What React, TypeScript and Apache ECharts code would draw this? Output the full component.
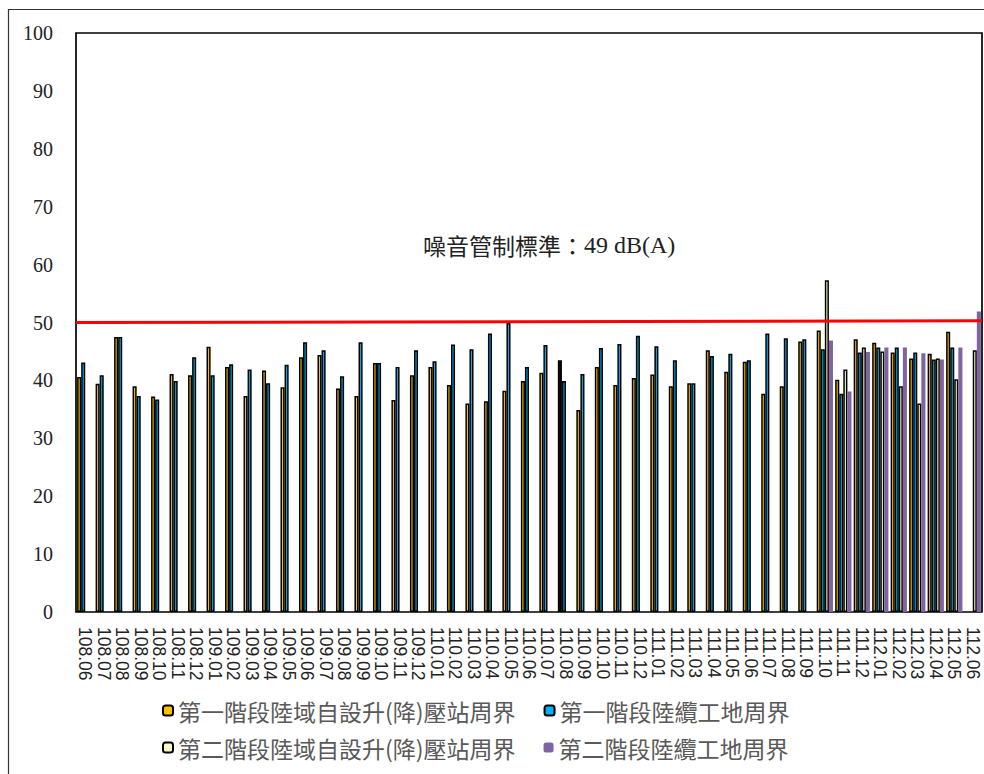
import React, { useEffect, useRef } from "react";
import * as echarts from "echarts";

const categories = [
  "108.06", "108.07", "108.08", "108.09", "108.10", "108.11", "108.12",
  "109.01", "109.02", "109.03", "109.04", "109.05", "109.06", "109.07", "109.08", "109.09", "109.10", "109.11", "109.12",
  "110.01", "110.02", "110.03", "110.04", "110.05", "110.06", "110.07", "110.08", "110.09", "110.10", "110.11", "110.12",
  "111.01", "111.02", "111.03", "111.04", "111.05", "111.06", "111.07", "111.08", "111.09", "111.10", "111.11", "111.12",
  "112.01", "112.02", "112.03", "112.04", "112.05", "112.06",
];

const seriesNames = [
  "第一階段陸域自設升(降)壓站周界",
  "第一階段陸纜工地周界",
  "第二階段陸域自設升(降)壓站周界",
  "第二階段陸纜工地周界",
];

const phase1Station: (number | null)[] = [
  40.6, 39.4, 47.5, 39.0, 37.2, 41.1, 40.9,
  45.8, 42.3, 37.3, 41.7, 38.8, 44.0, 44.4, 38.6, 37.3, 43.0, 36.6, 40.9,
  42.3, 39.2, 36.0, 36.4, 38.2, 39.9, 41.3, 43.5, 34.9, 42.3, 39.2, 40.4,
  41.0, 39.0, 39.5, 45.2, 41.5, 43.2, 37.7, 39.0, 46.7, 48.6, 40.1, 47.1,
  46.5, 44.8, 43.8, 44.6, 48.4, null,
];

const phase1Cable: (number | null)[] = [
  43.1, 40.9, 47.5, 37.3, 36.7, 39.9, 44.0,
  40.9, 42.8, 41.9, 39.5, 42.7, 46.6, 45.2, 40.7, 46.6, 43.0, 42.3, 45.2,
  43.3, 46.2, 45.4, 48.1, 49.9, 42.3, 46.1, 39.9, 41.1, 45.6, 46.3, 47.7,
  45.9, 43.5, 39.5, 44.2, 44.6, 43.5, 48.1, 47.3, 47.1, 45.4, 37.7, 44.8,
  45.7, 45.7, 44.8, 43.6, 45.7, null,
];

const phase2Station: (number | null)[] = [
  null, null, null, null, null, null, null,
  null, null, null, null, null, null, null, null, null, null, null, null,
  null, null, null, null, null, null, null, null, null, null, null, null,
  null, null, null, null, null, null, null, null, null, 57.3, 41.9, 45.7,
  45.0, 39.0, 36.0, 43.8, 40.2, 45.2,
];

const phase2Cable: (number | null)[] = [
  null, null, null, null, null, null, null,
  null, null, null, null, null, null, null, null, null, null, null, null,
  null, null, null, null, null, null, null, null, null, null, null, null,
  null, null, null, null, null, null, null, null, null, 46.9, 38.1, 44.9,
  45.7, 45.7, 44.7, 43.6, 45.7, 51.9,
];

// noise limit line (start / end value as drawn)
const limitLine = [50.0, 50.3];
const darkPointIndex = 26; // 110.08 first bar drawn dark in reference

const colors = ["#FFC000", "#00B0F0", "#FFFFCC", "#8064A2"];

export default function App() {
  const ref = useRef<HTMLDivElement>(null);
  useEffect(() => {
    if (!ref.current) return;
    const chart = echarts.init(ref.current, null, { renderer: "svg" });
    const mkBar = (i: number, data: (number | null)[], border: boolean) => ({
      name: seriesNames[i],
      type: "bar",
      xAxisIndex: 0,
      yAxisIndex: 0,
      data: data.map((v, k) =>
        i === 0 && k === darkPointIndex ? { value: v, itemStyle: { color: "#111" } } : v
      ),
      barGap: "0%",
      barCategoryGap: "12%",
      itemStyle: {
        color: colors[i],
        borderColor: border ? "#000" : colors[i],
        borderWidth: border ? 1.5 : 0,
      },
    });
    const legendText = {
      fontFamily: "'Noto Sans CJK TC', sans-serif",
      fontSize: 23,
      color: "#595959",
    };
    chart.setOption({
      animation: false,
      grid: {
        left: 76,
        right: 2,
        top: 33,
        bottom: 162,
        show: true,
        borderColor: "#000",
        borderWidth: 1.7,
        backgroundColor: "transparent",
      },
      legend: [
        {
          data: [seriesNames[0], seriesNames[1]],
          left: 157,
          top: 694,
          itemWidth: 10,
          itemHeight: 10,
          itemGap: 28,
          textStyle: legendText,
        },
        {
          data: [seriesNames[2], seriesNames[3]],
          left: 157,
          top: 731,
          itemWidth: 10,
          itemHeight: 10,
          itemGap: 28,
          textStyle: legendText,
        },
      ],
      xAxis: [
        {
          type: "category",
          data: categories,
          axisLine: { show: false },
          axisTick: { show: false },
          axisLabel: {
            interval: 0,
            rotate: -90,
            margin: 15,
            fontFamily: "'Liberation Sans', Arial, sans-serif",
            fontSize: 17.5,
            color: "#222",
          },
        },
        {
          type: "value",
          min: 0,
          max: 1,
          show: false,
        },
      ],
      yAxis: {
        type: "value",
        min: 0,
        max: 100,
        interval: 10,
        splitLine: { show: false },
        axisLine: { show: false },
        axisTick: { show: false },
        axisLabel: {
          margin: 23,
          fontFamily: "'Liberation Serif', 'Times New Roman', serif",
          fontSize: 20,
          color: "#222",
        },
      },
      series: [
        mkBar(0, phase1Station, true),
        mkBar(1, phase1Cable, true),
        mkBar(2, phase2Station, true),
        mkBar(3, phase2Cable, false),
        {
          name: "limit",
          type: "line",
          xAxisIndex: 1,
          yAxisIndex: 0,
          data: [
            [0, limitLine[0]],
            [1, limitLine[1]],
          ],
          symbol: "none",
          lineStyle: { color: "#FF0000", width: 3 },
          silent: true,
          z: 5,
        },
      ],
      graphic: [
        {
          type: "rect",
          left: 6,
          top: 7,
          shape: { width: 1000, height: 800 },
          style: { fill: "none", stroke: "#333", lineWidth: 1.2 },
          silent: true,
        },
        {
          type: "text",
          left: 423,
          top: 233,
          style: {
            text: "{a|噪音管制標準：}{b|49 dB(A)}",
            rich: {
              a: {
                fontFamily: "'Noto Sans CJK TC', sans-serif",
                fontSize: 23,
                fill: "#222",
                color: "#222",
              },
              b: {
                fontFamily: "'Liberation Serif', 'Times New Roman', serif",
                fontSize: 24,
                fill: "#222",
                color: "#222",
              },
            },
          },
        },
      ],
    });
    return () => chart.dispose();
  }, []);
  return (
    <div
      ref={ref}
      style={{ position: "fixed", left: 0, top: 0, width: 984, height: 774, background: "#fff" }}
    />
  );
}
